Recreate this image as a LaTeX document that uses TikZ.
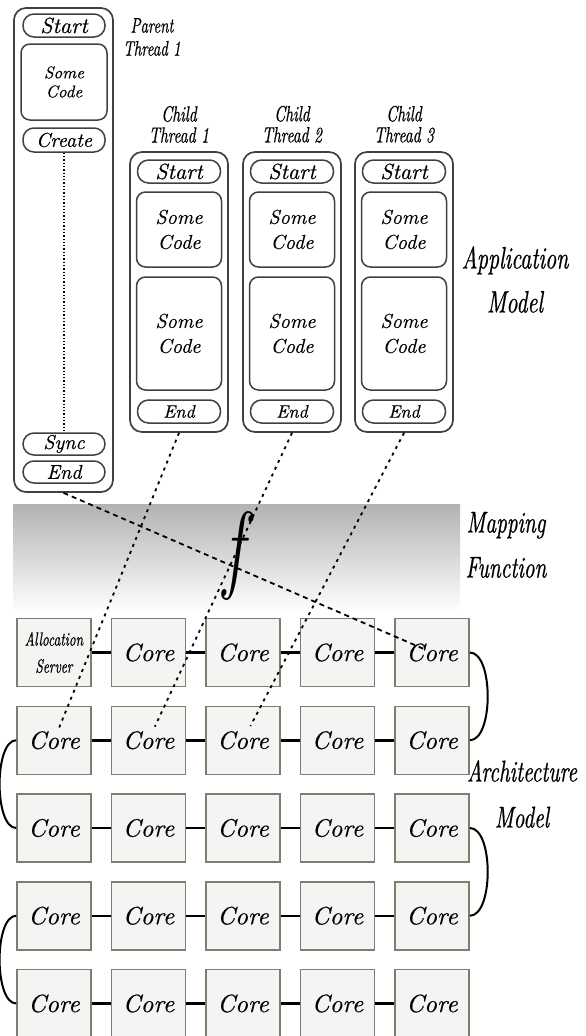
\documentclass[tikz,border=0pt]{standalone}
\usepackage{fontspec}
\newfontfamily\narrowit{lmroman10-italic.otf}[FakeStretch=0.7,FakeBold=0.6]
\newfontfamily\boxit{lmroman10-italic.otf}[FakeBold=0.4]
\definecolor{coreline}{RGB}{125,125,112}
\definecolor{corefill}{RGB}{244,244,242}
\begin{document}
\begin{tikzpicture}[x=1pt,y=-1pt,
    thread/.style={draw=black!75,line width=1.7pt,rounded corners=12pt,inner sep=0pt},
    pill/.style={draw=black!75,line width=1.5pt,rounded corners=11pt,minimum width=83pt,minimum height=23pt,inner sep=0pt,font=\boxit\fontsize{22}{24}\selectfont},
    codebox/.style={draw=black!75,line width=1.5pt,rounded corners=9pt,minimum width=85pt,inner sep=0pt,align=center,font=\boxit\fontsize{20}{25}\selectfont},
    tname/.style={align=center,inner sep=0pt,anchor=south,font=\narrowit\fontsize{22}{21}\selectfont},
    bigname/.style={align=center,inner sep=0pt,anchor=south,font=\narrowit\fontsize{31}{44}\selectfont},
    core/.style={draw=coreline,fill=corefill,line width=1.5pt,minimum width=74pt,minimum height=68pt,inner sep=0pt,font=\boxit\fontsize{25}{25}\selectfont},
    link/.style={line width=2.5pt},
    wrap/.style={line width=2pt},
    mapline/.style={line width=1.8pt,dash pattern=on 3pt off 4.5pt}]
  \useasboundingbox (0,0) rectangle (586,1036);
  \shade[top color=black!30,bottom color=white] (13,504) rectangle (460,612);
  \node[thread,minimum width=99pt,minimum height=484pt] (p) at (63.5,250) {};
  \node[tname,font=\narrowit\fontsize{21}{23}\selectfont] (lp) at (152,56) {Parent\\Thread 1};
  \node[pill,minimum width=82pt] (ps) at (64,25.5) {Start};
  \node[codebox,minimum width=86pt,minimum height=76pt,font=\boxit\fontsize{17}{19}\selectfont] (pc) at (64,82) {Some\\Code};
  \node[pill,minimum width=82pt,minimum height=24pt,font=\boxit\fontsize{20}{22}\selectfont] (pcr) at (64,140) {Create};
  \node[pill,minimum width=82pt,minimum height=22pt,font=\boxit\fontsize{20}{22}\selectfont] (psy) at (64,444) {Sync};
  \node[pill,minimum width=82pt,minimum height=22pt,font=\boxit\fontsize{20}{22}\selectfont] (pe) at (64,472) {End};
  \draw[dotted,line width=1.3pt] (pcr) -- (psy);
  \foreach \i/\x in {1/179,2/292,3/404}{
    \node[thread,minimum width=98pt,minimum height=280pt] (t\i) at (\x,292) {};
    \node[tname] (l\i) at (\x,143) {Child\\Thread \i};
    \node[pill] (s\i) at (\x,171.5) {Start};
    \node[codebox,minimum height=75pt] (a\i) at (\x,229.5) {Some\\Code};
    \node[codebox,minimum height=113pt] (b\i) at (\x,333.5) {Some\\Code};
    \node[pill,font=\boxit\fontsize{18}{20}\selectfont] (e\i) at (\x,411.5) {End};
  }
  \node[bigname] (am) at (515,313) {Application\\Model};
  \node[bigname,font=\narrowit\fontsize{30}{45}\selectfont] (mf) at (506,578) {Mapping\\Function};
  \node[bigname,font=\narrowit\fontsize{30}{46}\selectfont] (ar) at (522,828) {Architecture\\Model};
  \node[core,font=\narrowit\fontsize{19}{27}\selectfont,align=center] (c11) at (54,652.5) {Allocation\\Server};
  \foreach \c in {2,...,5}
    \node[core] (c1\c) at ({54+94.5*(\c-1)},652.5) {Core};
  \foreach \r in {2,...,5}
    \foreach \c in {1,...,5}
      \node[core] (c\r\c) at ({54+94.5*(\c-1)},{652.5+87.75*(\r-1)}) {Core};
  \foreach \r in {1,...,5}
    \foreach \c/\n in {1/2,2/3,3/4,4/5}
      \draw[link] (c\r\c) -- (c\r\n);
  \draw[wrap] (c15.east) to[out=0,in=0,looseness=0.7] (c25.east);
  \draw[wrap] (c21.west) to[out=180,in=180,looseness=0.65] (c31.west);
  \draw[wrap] (c35.east) to[out=0,in=0,looseness=0.7] (c45.east);
  \draw[wrap] (c41.west) to[out=180,in=180,looseness=0.65] (c51.west);
  \draw[mapline,dash pattern=on 5pt off 4pt,shorten >=9pt] (p.south) -- (c15.center);
  \draw[mapline,shorten >=13pt] (t1.south) -- (c21.center);
  \draw[mapline,shorten >=15pt] (t2.south) -- (c22.center);
  \draw[mapline,shorten >=16pt] (t3.south) -- (c23.center);
  \node[inner sep=0pt,font=\itshape\fontsize{98}{98}\selectfont] (f) at (234,556) {\scalebox{0.7}[1]{f}};
\end{tikzpicture}
\end{document}
